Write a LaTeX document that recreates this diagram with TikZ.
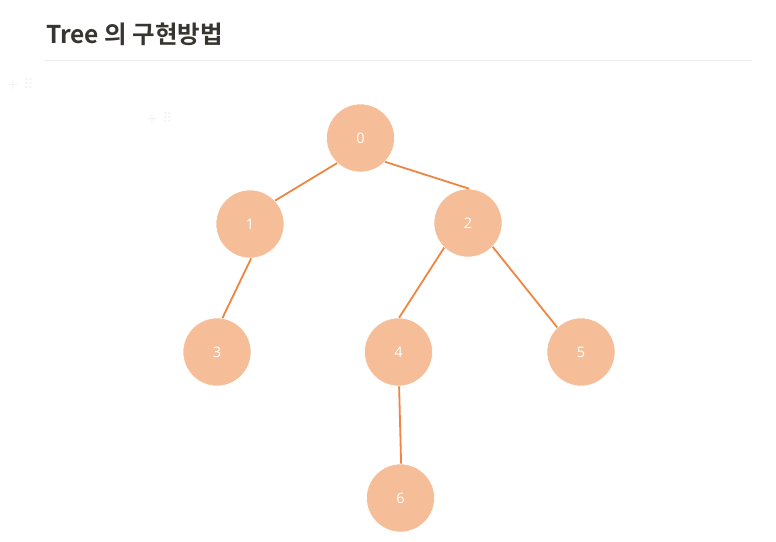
\documentclass[tikz,border=0pt]{standalone}
\usepackage{fontspec}
\setmainfont{Open Sans}
\newfontfamily\krfont{Noto Sans CJK KR}[BoldFont={* Bold}]
\newfontfamily\symfont{DejaVu Sans}
\definecolor{nodefill}{HTML}{F5BE98}
\definecolor{edgecol}{HTML}{EE8540}
\definecolor{titlecol}{HTML}{37352F}
\definecolor{rulecol}{HTML}{E9E9E7}
\definecolor{faint}{HTML}{F3F3F3}
\tikzset{
  treenode/.style={circle, fill=nodefill, draw=white, line width=0.6pt, minimum size=68pt, inner sep=0pt, text=white, font=\fontsize{14.5}{16}\selectfont},
  treeedge/.style={draw=edgecol, line width=1.8pt},
  handle/.style={text=faint, font=\symfont\fontsize{14}{16}\selectfont, inner sep=0pt, anchor=west}
}
\begin{document}
\begin{tikzpicture}[x=1pt,y=-1pt]
\useasboundingbox (0,0) rectangle (776,541);
\node[anchor=base west, inner sep=0pt, text=titlecol, font=\krfont\bfseries\fontsize{24.5}{28}\selectfont] (title) at (46,43) {Tree 의 구현방법};
\draw[rulecol, line width=1pt] (45,60) -- (752,60);
\node[handle] (h1) at (7,84) {+ ⠿};
\node[handle] (h2) at (146,118) {+ ⠿};
\node[treenode] (n0) at (360.5,138) {0};
\node[treenode] (n1) at (250,224) {1};
\node[treenode] (n2) at (468,223) {2};
\node[treenode] (n3) at (217,352) {3};
\node[treenode] (n4) at (398.5,352) {4};
\node[treenode] (n5) at (581,352) {5};
\node[treenode] (n6) at (400.5,498) {6};
\draw[treeedge] (n0.-133) -- (n1.43);
\draw[treeedge] (n0.-44) -- (n2.88);
\draw[treeedge] (n1.-88) -- (n3.81);
\draw[treeedge] (n2.-134) -- (n4.89);
\draw[treeedge] (n2.-44) -- (n5.134);
\draw[treeedge] (n4.-89) -- (n6.89);
\end{tikzpicture}
\end{document}
